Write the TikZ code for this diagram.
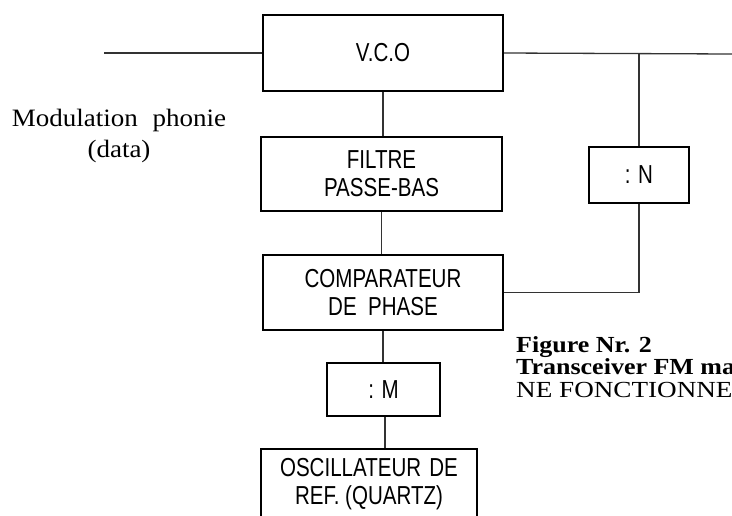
\documentclass[tikz,border=0pt]{standalone}
\usepackage{fontspec}
\setmainfont{Liberation Serif}
\newfontfamily\blocfont{Liberation Sans}
\usetikzlibrary{positioning}

% condensed sans text inside the blocks, wide serif text for the labels
\newcommand{\narrow}[1]{\scalebox{0.79}[1]{#1}}
\newcommand{\etire}[2][1.18]{\scalebox{#1}[1]{#2}}

\begin{document}
\begin{tikzpicture}[x=1pt, y=-1pt,
  bloc/.style={draw, line width=2.4pt, inner sep=0pt, align=center,
    font=\blocfont\fontsize{26}{28}\selectfont},
  wire/.style={line width=1.3pt, draw=black!80},
  legende/.style={inner sep=0pt, anchor=base west, font=\fontsize{23}{23}\selectfont}]
\useasboundingbox (0,0) rectangle (732,515);
\clip (0,0) rectangle (732,515);

% PLL chain
\node[bloc, minimum width=240pt, minimum height=76pt] (vco) at (383,53) {\narrow{V.C.O}};
\node[bloc, minimum width=241pt, minimum height=74pt] (filtre) at (381.5,174)
  {\narrow{FILTRE}\\\narrow{PASSE-BAS}};
\node[bloc, minimum width=240pt, minimum height=75pt] (comp) at (383,292.5)
  {\narrow{COMPARATEUR}\\\narrow{DE\ \ PHASE}};
\node[bloc, minimum width=113pt, minimum height=53pt] (divm) at (383.5,389.5) {\narrow{: M}};
\node[bloc, minimum width=216pt, minimum height=70pt] (osc) at (369,484)
  {\narrow{OSCILLATEUR\hspace{0.4em}DE}\\\narrow{REF. (QUARTZ)}};
\node[bloc, minimum width=100pt, minimum height=56pt] (divn) at (639,175) {\narrow{: N}};

\coordinate (modin) at (104,53);
\coordinate (hfout) at (732,54);

\draw[wire] (modin) -- (vco.west);
\draw[wire] (vco.east) -- (hfout);
\draw[wire] (divn.north |- hfout) -- (divn.north);
\draw[wire] (divn.south) |- (comp.east);
\draw[wire] (vco.south) -- (vco.south |- filtre.north);
\draw[wire] (filtre.south) -- (filtre.south |- comp.north);
\draw[wire] (comp.south) -- (comp.south |- divm.north);
\draw[wire] ([xshift=1.5pt]divm.south) -- ([xshift=1.5pt]divm.south |- osc.north);

% input label
\node[legende, anchor=base, font=\fontsize{25}{25}\selectfont] (modlabel) at (119,126)
  {\etire[1.08]{Modulation\hspace{0.55em}phonie}};
\node[legende, anchor=base, font=\fontsize{25}{25}\selectfont] (datalabel) at (119,157)
  {\etire[1.08]{(data)}};

% caption
\node[legende] (fig1) at (516,352) {\textbf{\etire[1.13]{Figure Nr. 2}}};
\node[legende] (fig2) at (516,374) {\textbf{\etire[1.13]{Transceiver FM ma}}};
\node[legende] (fig3) at (516,397) {\etire{NE FONCTIONNE}};
\end{tikzpicture}
\end{document}
